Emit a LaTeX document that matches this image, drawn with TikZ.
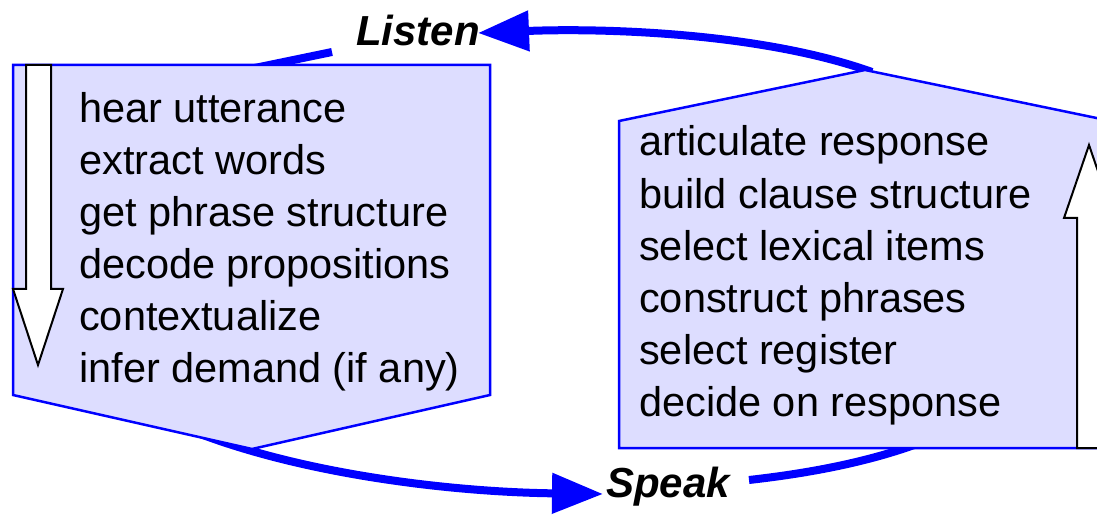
\documentclass[tikz,border=0pt]{standalone}
\usepackage{fontspec}
\setmainfont{Liberation Sans}
\usetikzlibrary{arrows.meta}
\definecolor{boxfill}{RGB}{221,221,255}
\definecolor{pureblue}{RGB}{0,0,255}
\tikzset{
  stagebox/.style={fill=boxfill, draw=pureblue, line width=2.5pt, line join=miter},
  flowarrow/.style={fill=white, draw=black, line width=2pt, line join=miter},
  cycle line/.style={draw=pureblue, line width=8pt, line cap=butt},
  cycle arrow/.style={cycle line, -{Triangle[length=51pt,width=39pt]}},
  steptext/.style={anchor=base west, inner sep=0pt, font=\fontsize{41.5}{49}\selectfont},
  phase/.style={anchor=base west, inner sep=0pt, font=\fontsize{42}{49}\selectfont\bfseries\itshape}
}
\begin{document}
\begin{tikzpicture}[x=1pt,y=1pt]
\useasboundingbox (0,0) rectangle (1097,514);
\clip (0,0) rectangle (1097,514);

% key points
\coordinate (ltop) at (245,444);
\coordinate (lcut) at (332,462);
\coordinate (rtop) at (872,442);
\coordinate (lbot) at (190,84);
\coordinate (scut) at (749,34);
\coordinate (rbot) at (930,75);

% labels
\node[phase] (listen) at (356,468) {Listen};
\node[phase] (speak) at (606,17) {Speak};
\coordinate (listentip) at (478,481);
\coordinate (speaktip) at (603,20);

% cycle arcs (behind boxes)
\draw[cycle arrow] (rtop) .. controls (760,482) and (600,486) .. (listentip);
\draw[cycle line] (lcut) -- (ltop);
\draw[cycle arrow] (lbot) .. controls (300,40) and (450,22) .. (speaktip);
\draw[cycle line] (scut) .. controls (820,42) and (880,55) .. (rbot);

% stage boxes
\path[stagebox] (13,449) -- (490,449) -- (490,119) -- (252,65) -- (13,119) -- cycle;
\path[stagebox] (619,66) -- (1111,66) -- (1111,393) -- (865,444) -- (619,393) -- cycle;

% white direction arrows
\path[flowarrow] (26,449) -- (51,449) -- (51,225) -- (63,225) -- (38,149) -- (13,225) -- (26,225) -- cycle;
\path[flowarrow] (1077,66) -- (1101,66) -- (1101,296) -- (1114,296) -- (1089,369) -- (1064,296) -- (1077,296) -- cycle;

% step texts
\foreach \t [count=\i from 0] in {hear utterance, extract words, get phrase structure, decode propositions, contextualize, infer demand (if any)}
  \node[steptext] (L\i) at (79,{391-52*\i}) {\t};
\foreach \t [count=\i from 0] in {articulate response, build clause structure, select lexical items, construct phrases, select register, decide on response}
  \node[steptext] (R\i) at (639,{358-52.2*\i}) {\t};
\end{tikzpicture}
\end{document}
